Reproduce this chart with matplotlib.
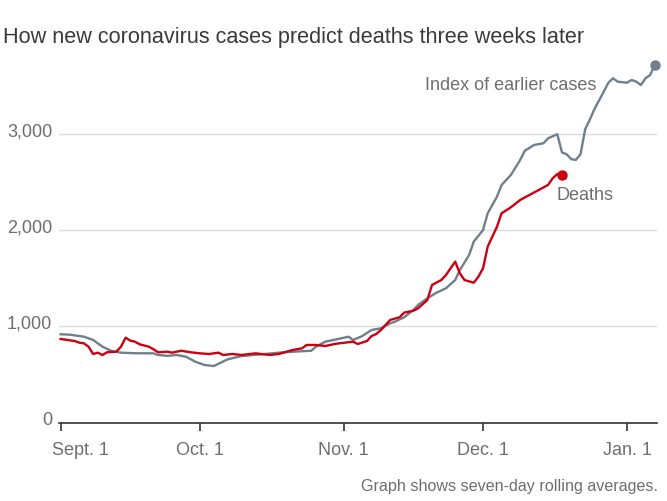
import datetime as dt
import matplotlib
matplotlib.use("Agg")
from matplotlib import pyplot as plt
from matplotlib.transforms import ScaledTranslation

title = "How new coronavirus cases predict deaths three weeks later"
note = "Graph shows seven-day rolling averages."
start = dt.date(2020, 9, 1)

# days after Sept. 1
case_days = [0, 2, 5, 7, 9, 11, 13, 16, 20, 21, 23, 25, 27, 29, 31, 33, 36, 39,
             44, 48, 54, 55, 57, 60, 62, 63, 65, 67, 69, 71, 72, 74, 76, 77, 79,
             81, 83, 85, 86, 88, 89, 91, 92, 94, 95, 97, 99, 100, 102, 104, 105,
             107, 108, 109, 110, 111, 112, 113, 114, 115, 116, 117, 118, 119,
             120, 122, 123, 124, 125, 126, 127, 128]
case_vals = [919, 915, 894, 860, 790, 745, 728, 722, 721, 704, 695, 704, 686,
             634, 600, 589, 659, 693, 714, 732, 748, 790, 842, 872, 894, 860,
             901, 964, 981, 1033, 1050, 1096, 1172, 1224, 1293, 1352, 1397,
             1483, 1587, 1743, 1882, 2003, 2177, 2349, 2471, 2575, 2731, 2827,
             2887, 2904, 2956, 2998, 2810, 2790, 2740, 2731, 2790, 3050, 3150,
             3260, 3350, 3440, 3534, 3580, 3545, 3534, 3562, 3545, 3510, 3580,
             3614, 3718]

death_days = [0, 3, 4, 5, 6, 7, 8, 9, 10, 12, 13, 14, 15, 16, 17, 19, 20, 21,
              23, 24, 26, 28, 30, 32, 34, 35, 37, 39, 42, 45, 47, 50, 52, 53,
              55, 57, 59, 60, 62, 63, 64, 66, 67, 68, 69, 71, 73, 74, 76, 77,
              79, 80, 82, 83, 85, 86, 87, 89, 90, 91, 92, 94, 95, 97, 99, 101,
              103, 105, 106, 107, 108]
death_vals = [870, 849, 832, 825, 790, 714, 728, 704, 732, 738, 790, 884, 853,
              842, 815, 790, 763, 732, 738, 728, 748, 732, 721, 714, 728, 704,
              714, 704, 721, 704, 714, 756, 773, 808, 808, 797, 818, 825, 836,
              842, 818, 849, 901, 922, 964, 1068, 1096, 1144, 1164, 1189, 1275,
              1431, 1483, 1535, 1674, 1553, 1483, 1455, 1518, 1605, 1830, 2037,
              2177, 2239, 2315, 2367, 2419, 2471, 2540, 2585, 2570]

tick_dates = [dt.date(2020, 9, 1), dt.date(2020, 10, 1), dt.date(2020, 11, 1),
              dt.date(2020, 12, 1), dt.date(2021, 1, 1)]
tick_labels = ["Sept. 1", "Oct. 1", "Nov. 1", "Dec. 1", "Jan. 1"]
y_ticks = [0, 1000, 2000, 3000]
y_labels = ["0", "1,000", "2,000", "3,000"]

gray = "#6f7f8b"
red = "#cc0011"
txt = "#6e6e6e"

plt.rcParams["font.family"] = ["Liberation Sans", "DejaVu Sans"]

fig = plt.figure(figsize=(6.67, 5.01), dpi=100)
ax = fig.add_axes([0.0889, 0.1563, 0.8957, 0.7297])

case_x = [start + dt.timedelta(days=d) for d in case_days]
death_x = [start + dt.timedelta(days=d) for d in death_days]

ax.plot(case_x, case_vals, color=gray, lw=1.7, zorder=3)
ax.plot(death_x, death_vals, color=red, lw=1.7, zorder=4)
ax.plot(case_x[-1], case_vals[-1], "o", color=gray, ms=6.5, zorder=5, clip_on=False)
ax.plot(death_x[-1], death_vals[-1], "o", color=red, ms=6.5, zorder=5, clip_on=False)

ax.set_xlim(dt.datetime(2020, 8, 31, 17), dt.datetime(2021, 1, 7, 10))
ax.set_ylim(0, 3800)

for s in ["top", "right", "left"]:
    ax.spines[s].set_visible(False)
ax.spines["bottom"].set_color("#333333")
ax.spines["bottom"].set_linewidth(1.2)

ax.set_yticks(y_ticks)
ax.set_yticklabels(y_labels)
ax.tick_params(axis="y", length=0, pad=5, labelsize=13, labelcolor=txt)
ax.grid(axis="y", color="#dddddd", lw=1)
ax.set_axisbelow(True)
up = ScaledTranslation(0, 4 / 100, fig.dpi_scale_trans)
for lbl in ax.get_yticklabels():
    lbl.set_transform(lbl.get_transform() + up)

ax.set_xticks(tick_dates)
ax.set_xticklabels(tick_labels)
ax.tick_params(axis="x", length=6, width=1.2, color="#333333", pad=8,
               labelsize=13, labelcolor=txt)
first = ax.get_xticklabels()[0]
first.set_ha("left")
first.set_transform(first.get_transform() + ScaledTranslation(-9 / 100, 0, fig.dpi_scale_trans))

ax.text(dt.datetime(2020, 12, 25, 8), 3500, "Index of earlier cases", ha="right",
        va="center", fontsize=13, color=txt)
ax.text(dt.datetime(2020, 12, 16, 22), 2357, "Deaths", ha="left",
        va="center", fontsize=13, color=txt)

fig.text(3 / 667, 1 - 37 / 501, title, ha="left", va="center", fontsize=15.6,
         color="#3a3a3a")
fig.text(658 / 667, 1 - 487 / 501, note, ha="right", va="center", fontsize=11.6,
         color=txt)

fig.savefig("out.png", dpi=100)
